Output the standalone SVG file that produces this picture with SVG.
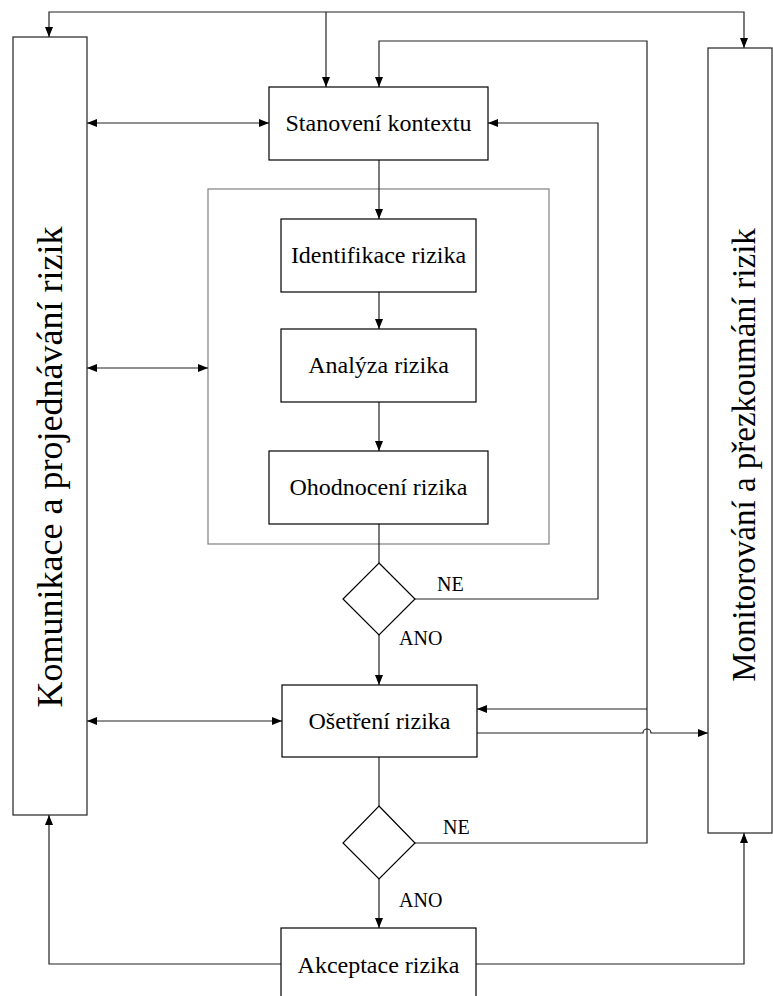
<svg xmlns="http://www.w3.org/2000/svg" width="773" height="996" viewBox="0 0 773 996">
<style>
.box{fill:#fff;stroke:#000;stroke-width:1.2}
.side{fill:#fff;stroke:#222;stroke-width:1.2}
.frame{fill:none;stroke:#808080;stroke-width:1.2}
.ln{fill:none;stroke:#222;stroke-width:1.2}
.t{font-family:"Liberation Serif","Times New Roman",serif;font-size:24px;fill:#000;text-anchor:middle}
.lbl{font-family:"Liberation Serif","Times New Roman",serif;font-size:20px;fill:#000}
.vt{font-family:"Liberation Serif","Times New Roman",serif;fill:#000;text-anchor:middle}
</style>
<defs>
<marker id="ah" viewBox="0 0 10 10" refX="10" refY="5" markerWidth="10" markerHeight="10" markerUnits="userSpaceOnUse" orient="auto-start-reverse">
<path d="M0,1 L10,5 L0,9 Z" fill="#000"/>
</marker>
</defs>
<rect class="frame" x="208" y="189" width="341" height="355"/>
<g id="connectors">
<path class="ln" d="M49,37 L49,12 L744,12 L744,48" marker-start="url(#ah)" marker-end="url(#ah)"/>
<path class="ln" d="M326,12 L326,87" marker-end="url(#ah)"/>
<path class="ln" d="M415,843 L647,843 L647,41 L379,41 L379,87" marker-end="url(#ah)"/>
<path class="ln" d="M647,709 L477,709" marker-end="url(#ah)"/>
<path class="ln" d="M477,733 L643,733 A4,4 0 0 1 651,733 L708,733" marker-end="url(#ah)"/>
<path class="ln" d="M415,599 L598,599 L598,123 L488,123" marker-end="url(#ah)"/>
<path class="ln" d="M379,160 L379,219" marker-end="url(#ah)"/>
<path class="ln" d="M379,292 L379,329" marker-end="url(#ah)"/>
<path class="ln" d="M379,402 L379,451" marker-end="url(#ah)"/>
<path class="ln" d="M379,524 L379,563"/>
<path class="ln" d="M379,635 L379,685" marker-end="url(#ah)"/>
<path class="ln" d="M379,757 L379,806"/>
<path class="ln" d="M379,879 L379,928" marker-end="url(#ah)"/>
<path class="ln" d="M87,123 L269,123" marker-start="url(#ah)" marker-end="url(#ah)"/>
<path class="ln" d="M87,368 L208,368" marker-start="url(#ah)" marker-end="url(#ah)"/>
<path class="ln" d="M87,721 L282,721" marker-start="url(#ah)" marker-end="url(#ah)"/>
<path class="ln" d="M281,964 L49,964 L49,815" marker-end="url(#ah)"/>
<path class="ln" d="M476,964 L744,964 L744,833" marker-end="url(#ah)"/>
<text class="lbl" x="437" y="591">NE</text>
<text class="lbl" x="399" y="645">ANO</text>
<text class="lbl" x="443" y="834">NE</text>
<text class="lbl" x="399" y="907">ANO</text>
</g>
<g id="komunikace">
<rect class="side" x="13" y="37" width="74" height="778"/>
<text class="vt" font-size="36" transform="translate(62,467) rotate(-90)">Komunikace a projednávání rizik</text>
</g>
<g id="monitorovani">
<rect class="side" x="708" y="48" width="64" height="785"/>
<text class="vt" font-size="33" transform="translate(755,455) rotate(-90)">Monitorování a přezkoumání rizik</text>
</g>
<g id="stanoveni">
<rect class="box" x="269" y="87" width="219" height="73"/>
<text class="t" x="378.5" y="131">Stanovení kontextu</text>
</g>
<g id="identifikace">
<rect class="box" x="281" y="219" width="195" height="73"/>
<text class="t" x="378.5" y="263">Identifikace rizika</text>
</g>
<g id="analyza">
<rect class="box" x="281" y="329" width="195" height="73"/>
<text class="t" x="378.5" y="373">Analýza rizika</text>
</g>
<g id="ohodnoceni">
<rect class="box" x="269" y="451" width="219" height="73"/>
<text class="t" x="378.5" y="495">Ohodnocení rizika</text>
</g>
<g id="rozhodnuti1">
<polygon class="box" points="379,563 415,599 379,635 343,599"/>
</g>
<g id="osetreni">
<rect class="box" x="282" y="685" width="195" height="72"/>
<text class="t" x="379.5" y="729">Ošetření rizika</text>
</g>
<g id="rozhodnuti2">
<polygon class="box" points="379,806 415,843 379,879 343,843"/>
</g>
<g id="akceptace">
<rect class="box" x="281" y="928" width="195" height="80"/>
<text class="t" x="378.5" y="973">Akceptace rizika</text>
</g>
</svg>
